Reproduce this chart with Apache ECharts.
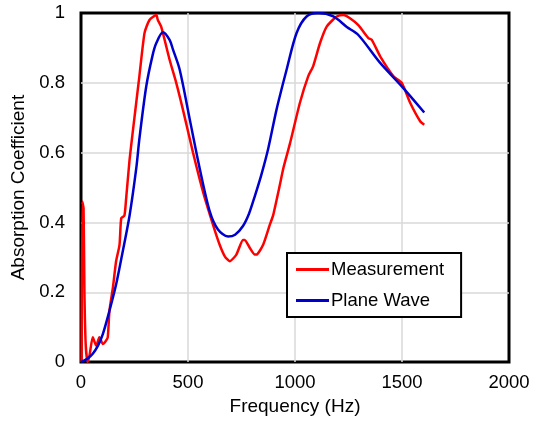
<!DOCTYPE html>
<html>
<head>
<meta charset="utf-8">
<script src="https://cdn.jsdelivr.net/npm/echarts@6/dist/echarts.min.js"></script>
<style>
  html, body { margin: 0; padding: 0; background: #fff; }
  #chart { width: 543px; height: 421px; }
</style>
</head>
<body>
<div id="chart"></div>
<script>
// frequency (Hz), absorption coefficient
const measurement = [
  [3, 0.0], [6, 0.46], [12, 0.44], [16, 0.2], [22, 0.05], [31, 0.0], [40, 0.02],
  [55, 0.071], [71, 0.047], [86, 0.071], [102, 0.052], [115, 0.06], [125, 0.071],
  [133, 0.147], [149, 0.213], [164, 0.289], [180, 0.336], [188, 0.412], [203, 0.42],
  [211, 0.469], [227, 0.58], [242, 0.66], [273, 0.82], [297, 0.943], [320, 0.98],
  [352, 0.994], [359, 0.98], [375, 0.96], [414, 0.866], [445, 0.8], [476, 0.724],
  [523, 0.601], [570, 0.488], [617, 0.393], [648, 0.336], [672, 0.303], [695, 0.289],
  [726, 0.308], [757, 0.35], [765, 0.35], [789, 0.327], [812, 0.308], [820, 0.308],
  [851, 0.336], [882, 0.393], [898, 0.421], [929, 0.507], [945, 0.554], [976, 0.625],
  [1023, 0.743], [1062, 0.819], [1085, 0.848], [1117, 0.914], [1148, 0.961],
  [1195, 0.99], [1226, 0.994], [1257, 0.985], [1296, 0.965], [1343, 0.928],
  [1359, 0.923], [1398, 0.876], [1460, 0.819], [1499, 0.8], [1538, 0.743],
  [1585, 0.69], [1604, 0.68]
];
const planeWave = [
  [0, 0.0], [30, 0.01], [55, 0.024], [80, 0.048], [102, 0.08], [133, 0.147],
  [164, 0.222], [195, 0.317], [227, 0.42], [258, 0.554], [273, 0.64], [305, 0.79],
  [335, 0.88], [352, 0.914], [383, 0.945], [414, 0.923], [430, 0.895], [461, 0.838],
  [508, 0.696], [555, 0.554], [602, 0.431], [640, 0.38], [687, 0.36], [720, 0.365],
  [757, 0.39], [785, 0.425], [812, 0.475], [842, 0.535], [875, 0.612], [914, 0.724],
  [961, 0.838], [1007, 0.942], [1054, 0.99], [1109, 1.0], [1179, 0.99], [1242, 0.96],
  [1296, 0.937], [1398, 0.857], [1499, 0.79], [1604, 0.715]
];
const seriesNames = ['Measurement', 'Plane Wave'];

const font = 'Liberation Sans, Arial, sans-serif';
const chart = echarts.init(document.getElementById('chart'));
chart.setOption({
  animation: false,
  grid: {
    left: 81, right: 34, top: 13, bottom: 56,
    show: true, borderColor: '#000', borderWidth: 3, backgroundColor: 'transparent'
  },
  legend: {
    data: seriesNames,
    orient: 'vertical',
    left: 287, top: 253,
    backgroundColor: '#fff',
    borderColor: '#000', borderWidth: 2, borderRadius: 0,
    padding: [7, 17, 7, 9],
    itemGap: 12,
    itemWidth: 33, itemHeight: 3,
    icon: 'rect',
    textStyle: { fontFamily: font, fontSize: 18.5, color: '#000', padding: [0, 0, 0, -3] }
  },
  xAxis: {
    type: 'value', min: 0, max: 2000, interval: 500,
    name: 'Frequency (Hz)', nameLocation: 'middle', nameGap: 28,
    nameTextStyle: { fontFamily: font, fontSize: 19, color: '#000' },
    axisLine: { show: false }, axisTick: { show: false },
    axisLabel: { fontFamily: font, fontSize: 18.5, color: '#000', margin: 11,
      formatter: v => String(v) },
    splitLine: { showMinLine: false, showMaxLine: false,
      lineStyle: { color: '#d9d9d9', width: 1.5 } }
  },
  yAxis: {
    type: 'value', min: 0, max: 1, interval: 0.2,
    name: 'Absorption Coefficient', nameLocation: 'middle', nameGap: 49,
    nameTextStyle: { fontFamily: font, fontSize: 19, color: '#000' },
    axisLine: { show: false }, axisTick: { show: false },
    axisLabel: { fontFamily: font, fontSize: 18.5, color: '#000', margin: 16,
      formatter: v => String(+v.toFixed(1)) },
    splitLine: { showMinLine: false, showMaxLine: false,
      lineStyle: { color: '#d9d9d9', width: 1.5 } }
  },
  series: [
    {
      name: seriesNames[0], type: 'line', data: measurement,
      showSymbol: false, smooth: 0.2, color: '#ff0000',
      lineStyle: { width: 2.5, color: '#ff0000' }
    },
    {
      name: seriesNames[1], type: 'line', data: planeWave,
      showSymbol: false, smooth: 0.3, color: '#0000cc',
      lineStyle: { width: 2.5, color: '#0000cc' }
    }
  ]
});
</script>
</body>
</html>
